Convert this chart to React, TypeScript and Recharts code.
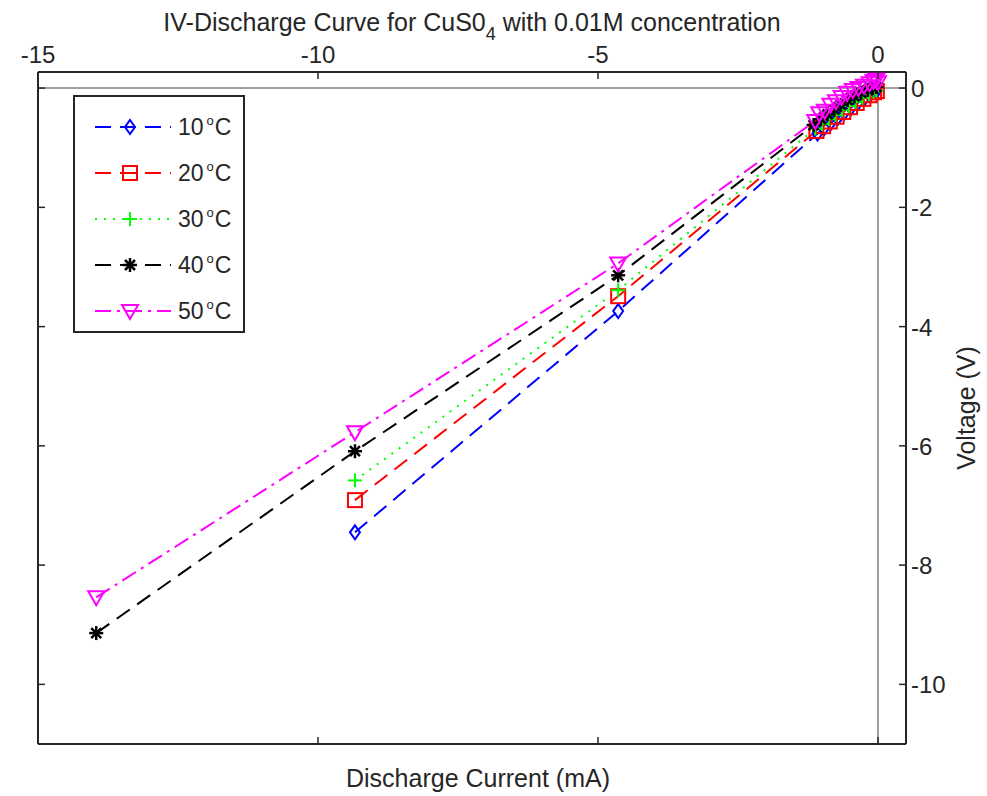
import React from 'react';
import { LineChart, Line, XAxis, YAxis, ReferenceLine, Legend } from 'recharts';

// discharge current (mA) and voltage (V) per temperature
const current10 = [-9.34, -4.64, -1.08, -0.96, -0.84, -0.72, -0.6, -0.48, -0.36, -0.24, -0.14, -0.06, -0.02];
const voltage10 = [-7.45, -3.74, -0.76, -0.67, -0.58, -0.5, -0.41, -0.33, -0.25, -0.17, -0.11, -0.06, -0.04];

const current20 = [-9.34, -4.64, -1.1, -0.98, -0.86, -0.74, -0.62, -0.5, -0.38, -0.26, -0.15, -0.07, -0.02];
const voltage20 = [-6.91, -3.49, -0.72, -0.64, -0.56, -0.48, -0.4, -0.32, -0.25, -0.18, -0.12, -0.07, -0.05];

const current30 = [-9.34, -4.64, -1.12, -1.0, -0.88, -0.76, -0.64, -0.52, -0.4, -0.28, -0.16, -0.08, -0.03];
const voltage30 = [-6.58, -3.39, -0.68, -0.6, -0.52, -0.45, -0.37, -0.3, -0.23, -0.16, -0.1, -0.06, -0.04];

const current40 = [-13.96, -9.34, -4.64, -1.15, -1.02, -0.9, -0.78, -0.66, -0.54, -0.42, -0.3, -0.18, -0.09, -0.03];
const voltage40 = [-9.14, -6.09, -3.14, -0.62, -0.52, -0.44, -0.36, -0.28, -0.2, -0.14, -0.08, -0.03, 0.0, 0.02];

const current50 = [-13.96, -9.34, -4.64, -1.12, -1.05, -0.95, -0.85, -0.75, -0.65, -0.55, -0.45, -0.35, -0.25, -0.15, -0.08, -0.03, 0.0];
const voltage50 = [-8.54, -5.77, -2.94, -0.55, -0.42, -0.38, -0.28, -0.22, -0.15, -0.08, -0.03, 0.0, 0.04, 0.08, 0.12, 0.14, 0.1];

const xTicks = [-15, -10, -5, 0];
const yTicks = [0, -2, -4, -6, -8, -10];

const PLOT_LEFT = 38;
const PLOT_RIGHT = 906;
const PLOT_TOP = 72;
const PLOT_BOTTOM = 744;
const FONT = "'Liberation Sans', Arial, sans-serif";
const TEXT = '#262626';

const zip = (xs: number[], ys: number[]) => xs.map((x, i) => ({ x, y: ys[i] }));

const series = [
  { name: '10', data: zip(current10, voltage10), color: '#0000ff', dash: '16 9', shape: 'diamond' },
  { name: '20', data: zip(current20, voltage20), color: '#ff0000', dash: '16 9', shape: 'square' },
  { name: '30', data: zip(current30, voltage30), color: '#00ff00', dash: '2 7', shape: 'plus' },
  { name: '40', data: zip(current40, voltage40), color: '#000000', dash: '16 9', shape: 'star' },
  { name: '50', data: zip(current50, voltage50), color: '#ff00ff', dash: '16 6 3 6', shape: 'triangle' },
];

function Marker({ shape, cx, cy, color }: { shape: string; cx: number; cy: number; color: string }) {
  const sw = 2;
  if (shape === 'diamond') {
    return <polygon points={`${cx},${cy - 7} ${cx + 5},${cy} ${cx},${cy + 7} ${cx - 5},${cy}`} fill="none" stroke={color} strokeWidth={sw} />;
  }
  if (shape === 'square') {
    return <rect x={cx - 7} y={cy - 7} width={14} height={14} fill="none" stroke={color} strokeWidth={sw} />;
  }
  if (shape === 'plus') {
    return (
      <g stroke={color} strokeWidth={sw}>
        <line x1={cx - 7} x2={cx + 7} y1={cy} y2={cy} />
        <line x1={cx} x2={cx} y1={cy - 7} y2={cy + 7} />
      </g>
    );
  }
  if (shape === 'star') {
    return (
      <g stroke={color} strokeWidth={2.5}>
        <line x1={cx - 7} x2={cx + 7} y1={cy} y2={cy} />
        <line x1={cx} x2={cx} y1={cy - 7} y2={cy + 7} />
        <line x1={cx - 5} x2={cx + 5} y1={cy - 5} y2={cy + 5} />
        <line x1={cx - 5} x2={cx + 5} y1={cy + 5} y2={cy - 5} />
      </g>
    );
  }
  return <polygon points={`${cx - 8},${cy - 6} ${cx + 8},${cy - 6} ${cx},${cy + 8}`} fill="none" stroke={color} strokeWidth={sw} />;
}

const TopTick = (props: any) => {
  const { x, payload } = props;
  return (
    <g>
      <line x1={x} x2={x} y1={PLOT_TOP} y2={PLOT_TOP + 7} stroke={TEXT} strokeWidth={1.5} />
      <line x1={x} x2={x} y1={PLOT_BOTTOM - 7} y2={PLOT_BOTTOM} stroke={TEXT} strokeWidth={1.5} />
      <text x={x} y={PLOT_TOP - 9} textAnchor="middle" fontSize={24} fontFamily={FONT} fill={TEXT}>
        {payload.value}
      </text>
    </g>
  );
};

const RightTick = (props: any) => {
  const { y, payload } = props;
  return (
    <g>
      <line x1={PLOT_RIGHT - 7} x2={PLOT_RIGHT} y1={y} y2={y} stroke={TEXT} strokeWidth={1.5} />
      <line x1={PLOT_LEFT} x2={PLOT_LEFT + 7} y1={y} y2={y} stroke={TEXT} strokeWidth={1.5} />
      <text x={PLOT_RIGHT + 5} y={y + 9} textAnchor="start" fontSize={24} fontFamily={FONT} fill={TEXT}>
        {payload.value}
      </text>
    </g>
  );
};

function LegendBox() {
  return (
    <div
      style={{
        border: `2px solid ${TEXT}`,
        background: '#fff',
        width: 168,
        height: 234,
        boxSizing: 'content-box',
        fontFamily: FONT,
        fontSize: 23,
        color: TEXT,
      }}
    >
      <div style={{ height: 7 }} />
      {series.map((s) => (
        <div key={s.name} style={{ height: 46, display: 'flex', alignItems: 'center' }}>
          <svg width={103} height={30} style={{ display: 'block' }}>
            <line x1={14} x2={96} y1={15} y2={15} stroke={s.color} strokeWidth={2} strokeDasharray={s.dash} strokeDashoffset={-6} />
            <Marker shape={s.shape} cx={55} cy={15} color={s.color} />
          </svg>
          <span style={{ whiteSpace: 'nowrap' }}>
            {s.name}
            <span style={{ fontSize: 13, position: 'relative', top: -10, marginLeft: 3, marginRight: 1 }}>o</span>
            C
          </span>
        </div>
      ))}
    </div>
  );
}

export default function App() {
  return (
    <div style={{ position: 'absolute', left: 0, top: 0, width: 987, height: 796, background: '#fff' }}>
      <LineChart
        width={987}
        height={796}
        margin={{ top: PLOT_TOP - 1, right: 987 - PLOT_RIGHT - 1, bottom: 796 - PLOT_BOTTOM - 1, left: PLOT_LEFT - 1 }}
      >
        <XAxis
          xAxisId="top"
          orientation="top"
          type="number"
          dataKey="x"
          domain={[-15, 0.5]}
          ticks={xTicks}
          height={1}
          tick={<TopTick />}
          tickLine={false}
          axisLine={{ stroke: TEXT, strokeWidth: 2 }}
          allowDataOverflow
        />
        <XAxis
          xAxisId="bottom"
          orientation="bottom"
          type="number"
          dataKey="x"
          domain={[-15, 0.5]}
          height={1}
          tick={false}
          tickLine={false}
          axisLine={{ stroke: TEXT, strokeWidth: 2 }}
          allowDataOverflow
        />
        <YAxis
          yAxisId="right"
          orientation="right"
          type="number"
          dataKey="y"
          domain={[-11, 0.27]}
          ticks={yTicks}
          width={1}
          tick={<RightTick />}
          tickLine={false}
          axisLine={{ stroke: TEXT, strokeWidth: 2 }}
          allowDataOverflow
        />
        <YAxis
          yAxisId="left"
          orientation="left"
          type="number"
          dataKey="y"
          domain={[-11, 0.27]}
          width={1}
          tick={false}
          tickLine={false}
          axisLine={{ stroke: TEXT, strokeWidth: 2 }}
          allowDataOverflow
        />
        <ReferenceLine xAxisId="top" yAxisId="right" x={0} stroke="#a0a0a0" strokeWidth={2} />
        <ReferenceLine xAxisId="top" yAxisId="right" y={0} stroke="#a0a0a0" strokeWidth={2} />
        {series.map((s) => (
          <Line
            key={s.name}
            xAxisId="top"
            yAxisId="right"
            data={s.data}
            dataKey="y"
            type="linear"
            stroke={s.color}
            strokeWidth={2}
            strokeDasharray={s.dash}
            isAnimationActive={false}
            dot={(p: any) => <Marker key={`${s.name}-${p.index}`} shape={s.shape} cx={p.cx} cy={p.cy} color={s.color} />}
            activeDot={false}
          />
        ))}
        <Legend
          layout="vertical"
          align="center"
          verticalAlign="middle"
          content={() => <LegendBox />}
          wrapperStyle={{ left: 73, top: 95, width: 172, height: 238 }}
        />
        <text x={(PLOT_LEFT + PLOT_RIGHT) / 2} y={31} textAnchor="middle" fontSize={25} fontFamily={FONT} fill={TEXT}>
          IV-Discharge Curve for CuS0
          <tspan fontSize={18} dy={9}>4</tspan>
          <tspan dy={-9}> with 0.01M concentration</tspan>
        </text>
        <text x={478} y={787} textAnchor="middle" fontSize={25} fontFamily={FONT} fill={TEXT}>
          Discharge Current (mA)
        </text>
        <text
          x={968}
          y={408}
          textAnchor="middle"
          fontSize={25}
          fontFamily={FONT}
          fill={TEXT}
          transform="rotate(-90 968 408)"
          dominantBaseline="middle"
        >
          Voltage (V)
        </text>
      </LineChart>
    </div>
  );
}
